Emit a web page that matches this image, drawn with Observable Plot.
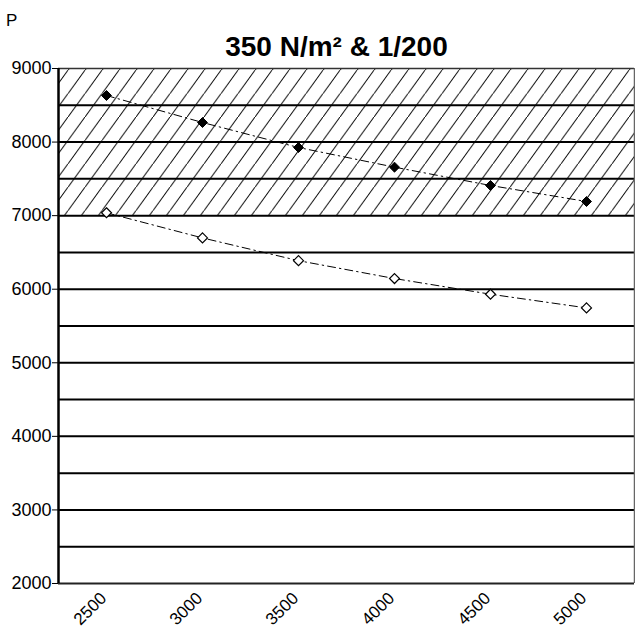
<!DOCTYPE html>
<html>
<head>
<meta charset="utf-8">
<script src="https://cdn.jsdelivr.net/npm/d3@7"></script>
<script src="https://cdn.jsdelivr.net/npm/@observablehq/plot@0.6"></script>
<style>
  html, body { margin: 0; padding: 0; background: white; }
  #wrap { position: relative; width: 635px; height: 633px; font-family: "Liberation Sans", Arial, sans-serif; }
  #plabel { position: absolute; left: 6px; top: 11px; font-size: 17px; line-height: 20px; color: black; }
  #title { position: absolute; left: 39px; width: 595px; top: 31px; text-align: center; font-size: 28px; line-height: 32px; font-weight: bold; color: black; }
  #chart { position: absolute; left: 0; top: 0; }
</style>
</head>
<body>
<div id="wrap">
  <div id="chart"></div>
  <div id="plabel">P</div>
  <div id="title">350 N/m² &amp; 1/200</div>
</div>
<script>
// Data
const categories = [2500, 3000, 3500, 4000, 4500, 5000];
const upperSeries = [8633, 8266, 7926, 7659, 7410, 7192];
const lowerSeries = [7039, 6697, 6388, 6145, 5932, 5746];
const yTicks = [2000, 3000, 4000, 5000, 6000, 7000, 8000, 9000];
const gridValues = [2500, 3000, 3500, 4000, 4500, 5000, 5500, 6000, 6500, 7000, 7500, 8000, 8500];
const hatchBand = [7000, 9000];
const xDomain = [2250, 5250];
const yDomain = [2000, 9000];

const upper = categories.map((c, i) => ({x: c, y: upperSeries[i]}));
const lower = categories.map((c, i) => ({x: c, y: lowerSeries[i]}));

const dash = "8,4,1.5,4";

const svg = Plot.plot({
  width: 635,
  height: 633,
  marginLeft: 58,
  marginRight: 1,
  marginTop: 68,
  marginBottom: 50,
  style: {fontFamily: "'Liberation Sans', Arial, sans-serif", fontSize: "18px", color: "black", background: "transparent"},
  x: {type: "linear", domain: xDomain},
  y: {type: "linear", domain: yDomain},
  marks: [
    Plot.rect([{y1: hatchBand[0], y2: hatchBand[1]}], {y1: "y1", y2: "y2", fill: "url(#hatch)"}),
    Plot.ruleY(gridValues, {stroke: "black", strokeWidth: 2}),
    Plot.ruleY([yDomain[1]], {stroke: "#333", strokeWidth: 1.5}),
    Plot.ruleX([xDomain[1]], {stroke: "#666", strokeWidth: 1.5}),
    Plot.ruleY([yDomain[0]], {stroke: "#222", strokeWidth: 2}),
    Plot.ruleX([xDomain[0]], {stroke: "black", strokeWidth: 2.5}),
    Plot.axisY(yTicks, {tickSize: 6, tickPadding: 1, tickFormat: String, fontSize: 18, label: null}),
    Plot.axisX(categories, {tickSize: 0, tickPadding: 12, tickRotate: -45, tickFormat: String, fontSize: 17, dx: -3, label: null}),
    Plot.line(upper, {x: "x", y: "y", stroke: "black", strokeWidth: 1, strokeDasharray: dash}),
    Plot.line(lower, {x: "x", y: "y", stroke: "black", strokeWidth: 1, strokeDasharray: dash}),
    Plot.dot(upper, {x: "x", y: "y", symbol: "diamond2", r: 4.5, fill: "black", stroke: "black", strokeWidth: 1}),
    Plot.dot(lower, {x: "x", y: "y", symbol: "diamond2", r: 4.5, fill: "white", stroke: "black", strokeWidth: 1.2})
  ]
});

// hatch pattern definition: diagonal "/" lines (bottom-left to top-right)
const ns = "http://www.w3.org/2000/svg";
const tw = 17, th = 23.4;
const defs = document.createElementNS(ns, "defs");
const pat = document.createElementNS(ns, "pattern");
pat.setAttribute("id", "hatch");
pat.setAttribute("patternUnits", "userSpaceOnUse");
pat.setAttribute("width", tw);
pat.setAttribute("height", th);
const bg = document.createElementNS(ns, "rect");
bg.setAttribute("width", tw);
bg.setAttribute("height", th);
bg.setAttribute("fill", "white");
pat.appendChild(bg);
const ln = document.createElementNS(ns, "path");
ln.setAttribute("d", `M${-tw},${2 * th}L${2 * tw},${-th}`);
ln.setAttribute("stroke", "black");
ln.setAttribute("stroke-width", "1");
pat.appendChild(ln);
defs.appendChild(pat);
svg.insertBefore(defs, svg.firstChild);

document.getElementById("chart").appendChild(svg);
</script>
</body>
</html>
